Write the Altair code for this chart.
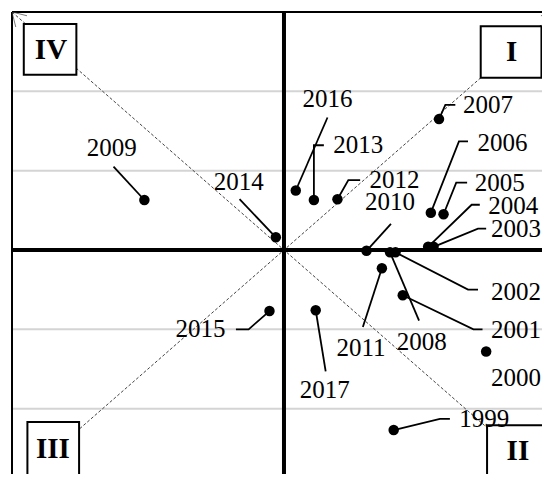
import altair as alt
import pandas as pd

# ---- data ----
years = ["1999", "2000", "2001", "2002", "2003", "2004", "2005", "2006", "2007", "2008",
         "2009", "2010", "2011", "2012", "2013", "2014", "2015", "2016", "2017"]
x_vals = [1.21, 2.23, 1.31, 1.23, 1.65, 1.59, 1.76, 1.62, 1.71, 1.17,
          -1.54, 0.91, 1.08, 0.59, 0.33, -0.09, -0.16, 0.13, 0.35]
y_vals = [-2.27, -1.28, -0.57, -0.03, 0.04, 0.04, 0.45, 0.47, 1.65, -0.03,
          0.63, -0.01, -0.23, 0.64, 0.63, 0.16, -0.77, 0.75, -0.76]
label_x = [2.21, 2.56, 2.56, 2.56, 2.56, 2.53, 2.38, 2.41, 2.25, 1.52,
           -1.90, 1.17, 0.85, 1.22, 0.82, -0.50, -0.92, 0.48, 0.45]
label_y = [-2.13, -1.62, -1.01, -0.53, 0.26, 0.55, 0.85, 1.35, 1.83, -1.16,
           1.28, 0.61, -1.24, 0.88, 1.32, 0.86, -1.00, 1.90, -1.77]
# leader-line bend/end points after the dot
leader_pts = {
    "1999": [(1.72, -2.13), (1.83, -2.13)],
    "2001": [(2.09, -1.00), (2.19, -1.00)],
    "2002": [(2.03, -0.50), (2.14, -0.50)],
    "2003": [(2.14, 0.27), (2.23, 0.27)],
    "2004": [(2.07, 0.57), (2.16, 0.57)],
    "2005": [(1.90, 0.85), (2.02, 0.85)],
    "2006": [(1.93, 1.37), (2.03, 1.37)],
    "2007": [(1.78, 1.83), (1.89, 1.83)],
    "2008": [(1.49, -0.89)],
    "2009": [(-1.88, 1.05)],
    "2010": [(1.18, 0.33)],
    "2011": [(0.87, -0.97)],
    "2012": [(0.71, 0.88), (0.84, 0.88)],
    "2013": [(0.33, 1.32), (0.44, 1.32)],
    "2014": [(-0.49, 0.64)],
    "2015": [(-0.39, -1.00), (-0.53, -1.00)],
    "2016": [(0.48, 1.67)],
    "2017": [(0.46, -1.53)],
}
grid_levels = [-2, -1, 1, 2]
quadrants = ["I", "II", "III", "IV"]
quad_x = [2.51, 2.58, -2.55, -2.57]
quad_y = [2.50, -2.53, -2.51, 2.52]
box_x1 = [2.17, 2.24, -2.83, -2.87]
box_x2 = [2.84, 2.92, -2.26, -2.29]
box_y1 = [2.82, -2.21, -2.17, 2.85]
box_y2 = [2.17, -2.85, -2.86, 2.21]

X_DOM = [-3, 2.846]
Y_DOM = [-2.824, 3]
FONT = "Liberation Serif"

xs = alt.Scale(domain=X_DOM, nice=False, zero=False)
ys = alt.Scale(domain=Y_DOM, nice=False, zero=False)


def X(f):
    return alt.X(f, type="quantitative", scale=xs, axis=None)


def Y(f):
    return alt.Y(f, type="quantitative", scale=ys, axis=None)


pts = pd.DataFrame({"year": years, "x": x_vals, "y": y_vals, "lx": label_x, "ly": label_y})

rows = []
for yr, xv, yv in zip(years, x_vals, y_vals):
    if yr in leader_pts:
        rows.append({"year": yr, "o": 0, "x": xv, "y": yv})
        for i, (a, b) in enumerate(leader_pts[yr]):
            rows.append({"year": yr, "o": i + 1, "x": a, "y": b})
leaders = pd.DataFrame(rows)

diag = pd.DataFrame({
    "line": ["a", "a", "b", "b"],
    "o": [0, 1, 0, 1],
    "x": [-3, 3, -3, 3],
    "y": [3, -3, -3, 3],
})
grid_df = pd.DataFrame({"y": grid_levels})
quad_df = pd.DataFrame({"q": quadrants, "x": quad_x, "y": quad_y,
                        "x1": box_x1, "x2": box_x2, "y1": box_y1, "y2": box_y2})
arrow_df = pd.DataFrame({"x": [-3, 3], "y": [3, 3],
                         "shape": ["M 1 0.25 L 0 0 L 0.25 1", "M -1 0.25 L 0 0 L -0.25 1"]})

grid = alt.Chart(grid_df).mark_rule(color="#d4d4d4", strokeWidth=2).encode(y=Y("y"))

diagonals = alt.Chart(diag).mark_line(color="#444444", strokeWidth=1, strokeDash=[3, 2], clip=True).encode(
    x=X("x"), y=Y("y"), detail="line:N", order="o:Q")

vaxis = alt.Chart(pd.DataFrame({"x": [0]})).mark_rule(color="black", strokeWidth=4).encode(x=X("x"))
haxis = alt.Chart(pd.DataFrame({"y": [0]})).mark_rule(color="black", strokeWidth=4).encode(y=Y("y"))
lframe = alt.Chart(pd.DataFrame({"x": [X_DOM[0]]})).mark_rule(color="black", strokeWidth=2).encode(x=X("x"))
tframe = alt.Chart(pd.DataFrame({"y": [Y_DOM[1]]})).mark_rule(color="black", strokeWidth=2).encode(y=Y("y"))

arrows = alt.Chart(arrow_df).mark_point(color="#444444", strokeWidth=1, size=900, filled=False, clip=True).encode(
    x=X("x"), y=Y("y"), shape=alt.Shape("shape:N", scale=None))

boxes = alt.Chart(quad_df).mark_rect(fill="white", stroke="black", strokeWidth=2, clip=True).encode(
    x=X("x1"), x2="x2", y=Y("y1"), y2="y2")
box_text = alt.Chart(quad_df).mark_text(font=FONT, fontSize=29, fontWeight="bold", color="black",
                                        align="center", baseline="middle", clip=True).encode(
    x=X("x"), y=Y("y"), text="q:N")

leader_lines = alt.Chart(leaders).mark_line(color="black", strokeWidth=1.8).encode(
    x=X("x"), y=Y("y"), detail="year:N", order="o:Q")

dots = alt.Chart(pts).mark_circle(color="black", size=110, opacity=1).encode(x=X("x"), y=Y("y"))

labels = alt.Chart(pts).mark_text(font=FONT, fontSize=25, color="black", align="center",
                                  baseline="middle").encode(x=X("lx"), y=Y("ly"), text="year:N")

chart = alt.layer(
    grid, diagonals, vaxis, haxis, lframe, tframe, arrows, boxes, box_text,
    leader_lines, dots, labels
).properties(
    width=530, height=462,
    padding={"left": 4, "top": 4, "right": 0, "bottom": 0},
    autosize=alt.AutoSizeParams(type="none"),
).configure_view(stroke=None)

chart.save("out.html", embed_options={"renderer": "svg", "actions": False})
